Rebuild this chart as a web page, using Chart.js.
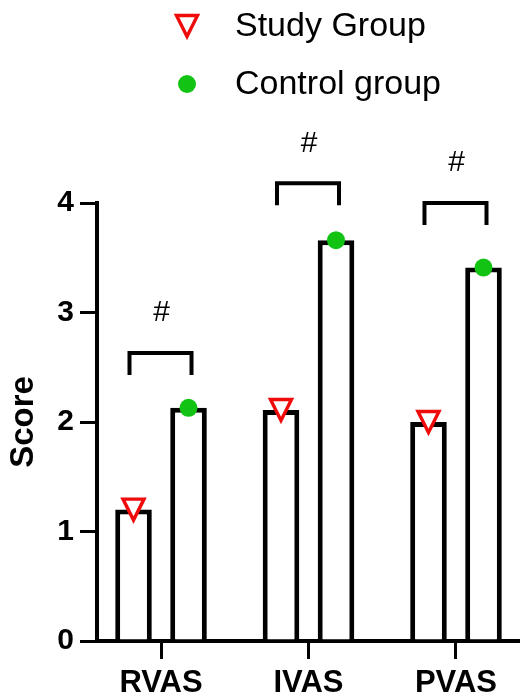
<!DOCTYPE html>
<html>
<head>
<meta charset="utf-8">
<script src="https://cdn.jsdelivr.net/npm/chart.js@4.4.1/dist/chart.umd.min.js"></script>
<style>
  html, body { margin: 0; padding: 0; background: #fff; overflow: hidden; }
  #wrap { width: 520px; height: 698px; position: relative; }
</style>
</head>
<body>
<div id="wrap"><canvas id="myChart"></canvas></div>
<script>
// Datos
const categories = ['RVAS', 'IVAS', 'PVAS'];
const studyValues = [1.2, 2.11, 2.0];
const controlValues = [2.13, 3.66, 3.41];
const yTicks = [0, 1, 2, 3, 4];
// altura (en unidades de Score) de cada corchete de significancia
const bracketHeights = [2.63, 4.18, 4.0];
const bracketLabels = ['#', '#', '#'];

const FONT = '"Liberation Sans", Arial, Helvetica, sans-serif';

// Dibuja el marcador de cada serie (triángulo rojo / círculo verde)
function drawMarker(ctx, kind, x, y) {
    ctx.save();
    if (kind === 'triangle') {
        ctx.beginPath();
        ctx.moveTo(x - 10.5, y - 10.5);
        ctx.lineTo(x + 10.5, y - 10.5);
        ctx.lineTo(x, y + 10.5);
        ctx.closePath();
        ctx.fillStyle = '#ffffff';
        ctx.fill();
        ctx.lineWidth = 3.4;
        ctx.lineJoin = 'miter';
        ctx.strokeStyle = '#f00a0a';
        ctx.stroke();
    } else {
        ctx.beginPath();
        ctx.arc(x, y, 9, 0, Math.PI * 2);
        ctx.fillStyle = '#13c313';
        ctx.fill();
    }
    ctx.restore();
}

const extras = {
    id: 'extras',
    afterDatasetsDraw(chart) {
        const ctx = chart.ctx;
        const y = chart.scales.y;
        // marcadores encima de cada barra
        chart.data.datasets.forEach((ds, di) => {
            chart.getDatasetMeta(di).data.forEach(bar => {
                drawMarker(ctx, ds.marker, bar.x, bar.y);
            });
        });
        // corchetes y "#"
        const studyBars = chart.getDatasetMeta(0).data;
        const controlBars = chart.getDatasetMeta(1).data;
        ctx.save();
        ctx.strokeStyle = '#000';
        ctx.lineWidth = 4;
        ctx.lineCap = 'butt';
        bracketHeights.forEach((h, i) => {
            const x1 = studyBars[i].x - 4;
            const x2 = controlBars[i].x + 3;
            const top = y.getPixelForValue(h);
            const bottom = y.getPixelForValue(h - 0.2);
            ctx.beginPath();
            ctx.moveTo(x1, bottom);
            ctx.lineTo(x1, top);
            ctx.lineTo(x2, top);
            ctx.lineTo(x2, bottom);
            ctx.stroke();
            ctx.fillStyle = '#000';
            ctx.font = '30px ' + FONT;
            ctx.textAlign = 'center';
            ctx.textBaseline = 'middle';
            ctx.fillText(bracketLabels[i], (x1 + x2) / 2 + 1, top - 40);
        });
        ctx.restore();
    },
    afterDraw(chart) {
        // leyenda vertical arriba
        const ctx = chart.ctx;
        const rows = [27, 85];
        ctx.save();
        chart.data.datasets.forEach((ds, i) => {
            drawMarker(ctx, ds.marker, 187, rows[i] - 1);
            ctx.fillStyle = '#000';
            ctx.font = '34px ' + FONT;
            ctx.textAlign = 'left';
            ctx.textBaseline = 'middle';
            ctx.fillText(ds.label, 235, rows[i]);
        });
        ctx.restore();
    }
};

const ctx = document.getElementById('myChart').getContext('2d');
new Chart(ctx, {
    type: 'bar',
    data: {
        datasets: [{
            label: 'Study Group',
            marker: 'triangle',
            data: studyValues.map((v, i) => ({ x: i, y: v })),
            backgroundColor: '#ffffff',
            borderColor: '#000000',
            borderWidth: 5,
        }, {
            label: 'Control group',
            marker: 'circle',
            data: controlValues.map((v, i) => ({ x: i, y: v })),
            backgroundColor: '#ffffff',
            borderColor: '#000000',
            borderWidth: 5,
        }]
    },
    options: {
        responsive: true,
        maintainAspectRatio: false,
        animation: false,
        categoryPercentage: 0.746,
        barPercentage: 0.665,
        layout: { padding: { top: 203, left: 0, right: 0, bottom: 0 } },
        plugins: {
            legend: { display: false },
            tooltip: { enabled: false },
        },
        scales: {
            x: {
                type: 'linear',
                min: -0.434,
                max: 2.434,
                offset: false,
                afterBuildTicks(scale) {
                    scale.ticks = categories.map((c, i) => ({ value: i }));
                },
                afterFit(scale) { scale.height = 57; },
                ticks: {
                    callback: value => categories[value],
                    color: '#000',
                    font: { family: FONT, size: 31, weight: 'bold' },
                    padding: 6,
                    maxRotation: 0,
                },
                grid: {
                    offset: false,
                    drawOnChartArea: false,
                    drawTicks: true,
                    tickLength: 18,
                    lineWidth: 3,
                    color: '#000',
                },
                border: { display: true, color: '#000', width: 4 },
            },
            y: {
                min: 0,
                max: 4,
                afterBuildTicks(scale) {
                    scale.ticks = yTicks.map(v => ({ value: v }));
                },
                afterFit(scale) { scale.width = 97; },
                ticks: {
                    color: '#000',
                    font: { family: FONT, size: 30, weight: 'bold' },
                    padding: 6,
                },
                grid: {
                    drawOnChartArea: false,
                    drawTicks: true,
                    tickLength: 17,
                    lineWidth: 3,
                    color: '#000',
                },
                border: { display: true, color: '#000', width: 4 },
                title: {
                    display: true,
                    text: 'Score',
                    color: '#000',
                    font: { family: FONT, size: 33, weight: 'bold' },
                    padding: { top: 4, bottom: 0 },
                },
            }
        }
    },
    plugins: [extras]
});
</script>
</body>
</html>
